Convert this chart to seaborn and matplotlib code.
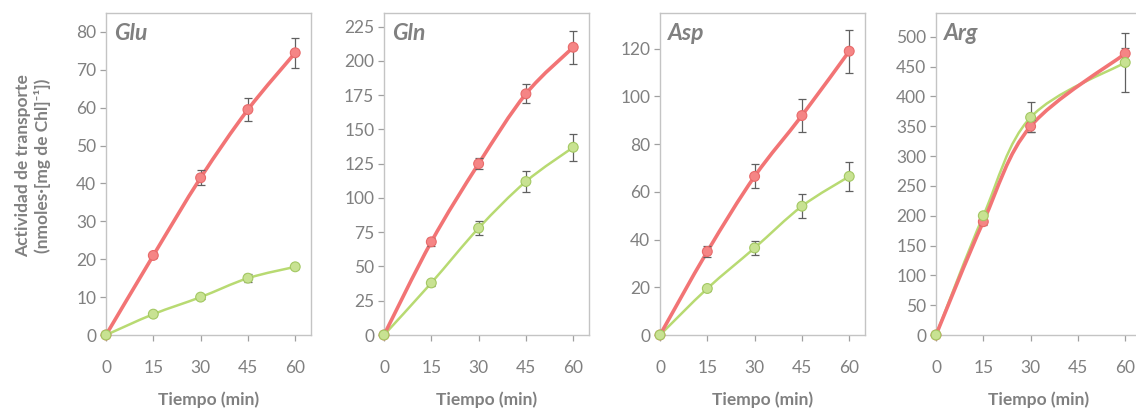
import numpy as np
import pandas as pd
import matplotlib
matplotlib.use("Agg")
import matplotlib.pyplot as plt
import seaborn as sns
from matplotlib.path import Path
from matplotlib.patches import PathPatch

# --- data -------------------------------------------------------------
tiempo = [0, 15, 30, 45, 60]
aminoacidos = ["Glu", "Gln", "Asp", "Arg"]

glu_rojo = [0, 21, 41.5, 59.5, 74.5]
glu_rojo_err = [0, 0.6, 2, 3, 4]
glu_verde = [0, 5.5, 10, 15, 18]
glu_verde_err = [0, 0.5, 0.6, 1, 0.6]

gln_rojo = [0, 68, 125, 176, 210]
gln_rojo_err = [0, 3, 4, 7, 12]
gln_verde = [0, 38, 78, 112, 137]
gln_verde_err = [0, 2, 5, 8, 10]

asp_rojo = [0, 35, 66.5, 92, 119]
asp_rojo_err = [0, 2.5, 5, 7, 9]
asp_verde = [0, 19.5, 36.5, 54, 66.5]
asp_verde_err = [0, 1, 3, 5, 6]

arg_rojo = [0, 190, 350, np.nan, 472]
arg_rojo_err = [0, 5, 10, np.nan, 10]
arg_verde = [0, 200, 365, np.nan, 457]
arg_verde_err = [0, 5, 25, np.nan, 50]

y_max = [85, 235, 135, 540]
y_paso = [10, 25, 20, 50]
y_tope = [80, 225, 120, 500]

valores = {
    "Glu": (glu_rojo, glu_rojo_err, glu_verde, glu_verde_err),
    "Gln": (gln_rojo, gln_rojo_err, gln_verde, gln_verde_err),
    "Asp": (asp_rojo, asp_rojo_err, asp_verde, asp_verde_err),
    "Arg": (arg_rojo, arg_rojo_err, arg_verde, arg_verde_err),
}

filas = []
for aa, (r, re, v, ve) in valores.items():
    for t, a, ea, b, eb in zip(tiempo, r, re, v, ve):
        filas.append((aa, "rojo", t, a, ea))
        filas.append((aa, "verde", t, b, eb))
df = pd.DataFrame(filas, columns=["aa", "serie", "t", "valor", "err"])

# --- style ------------------------------------------------------------
sns.set_theme(style="white")
plt.rcParams["font.family"] = ["Lato", "DejaVu Sans"]

GRIS = "#808080"
ESTILO = {
    "rojo": dict(line="#f27475", face="#f58585", edge="#e86a6a", lw=2.6, z=4),
    "verde": dict(line="#b8da72", face="#c8e292", edge="#a3c862", lw=1.8, z=3),
}


def curva_suave(ax, x, y, color, lw, z):
    """Smoothed polyline drawn as cubic Bezier segments (Catmull-Rom)."""
    p = np.column_stack([x, y])
    n = len(p)
    verts = [p[0]]
    codes = [Path.MOVETO]
    for i in range(n - 1):
        p0 = p[i - 1] if i > 0 else p[i]
        p1, p2 = p[i], p[i + 1]
        p3 = p[i + 2] if i + 2 < n else p[i + 1]
        c1 = p1 + (p2 - p0) / 6.0
        c2 = p2 - (p3 - p1) / 6.0
        verts += [c1, c2, p2]
        codes += [Path.CURVE4] * 3
    patch = PathPatch(Path(verts, codes), facecolor="none", edgecolor=color,
                      lw=lw, zorder=z, capstyle="round", joinstyle="round")
    ax.add_patch(patch)


fig = plt.figure(figsize=(11.36, 4.11), dpi=100)
W, H = 1136, 411
lefts = [106, 384, 660, 936]
ancho = 205
top_px, bottom_px = 13, 335

for k, aa in enumerate(aminoacidos):
    ax = fig.add_axes([lefts[k] / W, 1 - bottom_px / H, ancho / W,
                       (bottom_px - top_px) / H])
    sub = df[df["aa"] == aa]
    for serie in ["verde", "rojo"]:
        s = sub[(sub["serie"] == serie)].dropna()
        st = ESTILO[serie]
        curva_suave(ax, s["t"].to_numpy(float), s["valor"].to_numpy(float),
                    st["line"], st["lw"], st["z"])
        ax.errorbar(s["t"], s["valor"], yerr=s["err"], fmt="none",
                    ecolor="#606060", elinewidth=0.9, capsize=3, capthick=0.9,
                    zorder=st["z"] + 0.5)
    sns.scatterplot(data=sub.dropna(), x="t", y="valor", hue="serie",
                    hue_order=["verde", "rojo"],
                    palette={"rojo": ESTILO["rojo"]["face"],
                             "verde": ESTILO["verde"]["face"]},
                    s=50, linewidth=0.8, legend=False, ax=ax, zorder=6,
                    clip_on=False)
    # marker edge colours per series
    col = ax.collections[-1]
    edges = [ESTILO[v]["edge"] for v in sub.dropna()["serie"]]
    col.set_edgecolors(edges)

    ax.set_xlim(0, 65)
    ax.set_ylim(0, y_max[k])
    ax.set_xticks(tiempo)
    ax.set_yticks(np.arange(0, y_tope[k] + 1, y_paso[k]))
    ax.tick_params(axis="both", colors="#a0a0a0", labelcolor=GRIS,
                   labelsize=12.5, length=4, width=0.9, direction="out",
                   bottom=True, left=True)
    ax.tick_params(axis="x", pad=14)
    ax.tick_params(axis="y", pad=3)
    for sp in ax.spines.values():
        sp.set_color("#c4c4c4")
        sp.set_linewidth(1.0)
    ax.set_xlabel("Tiempo (min)", fontsize=12.5, fontweight="bold",
                  color=GRIS, labelpad=11)
    ax.set_ylabel("")
    ax.text(0.04, 0.935, aa, transform=ax.transAxes, fontsize=16.5,
            fontweight="bold", fontstyle="italic", color=GRIS,
            ha="left", va="center")

fig.text(33 / W, 1 - 166 / H,
         "Actividad de transporte\n(nmoles·[mg de Chl]⁻¹])",
         rotation=90, ha="center", va="center", fontsize=12.5,
         fontweight="bold", color=GRIS, linespacing=1.25)

fig.savefig("out.png", dpi=100)
